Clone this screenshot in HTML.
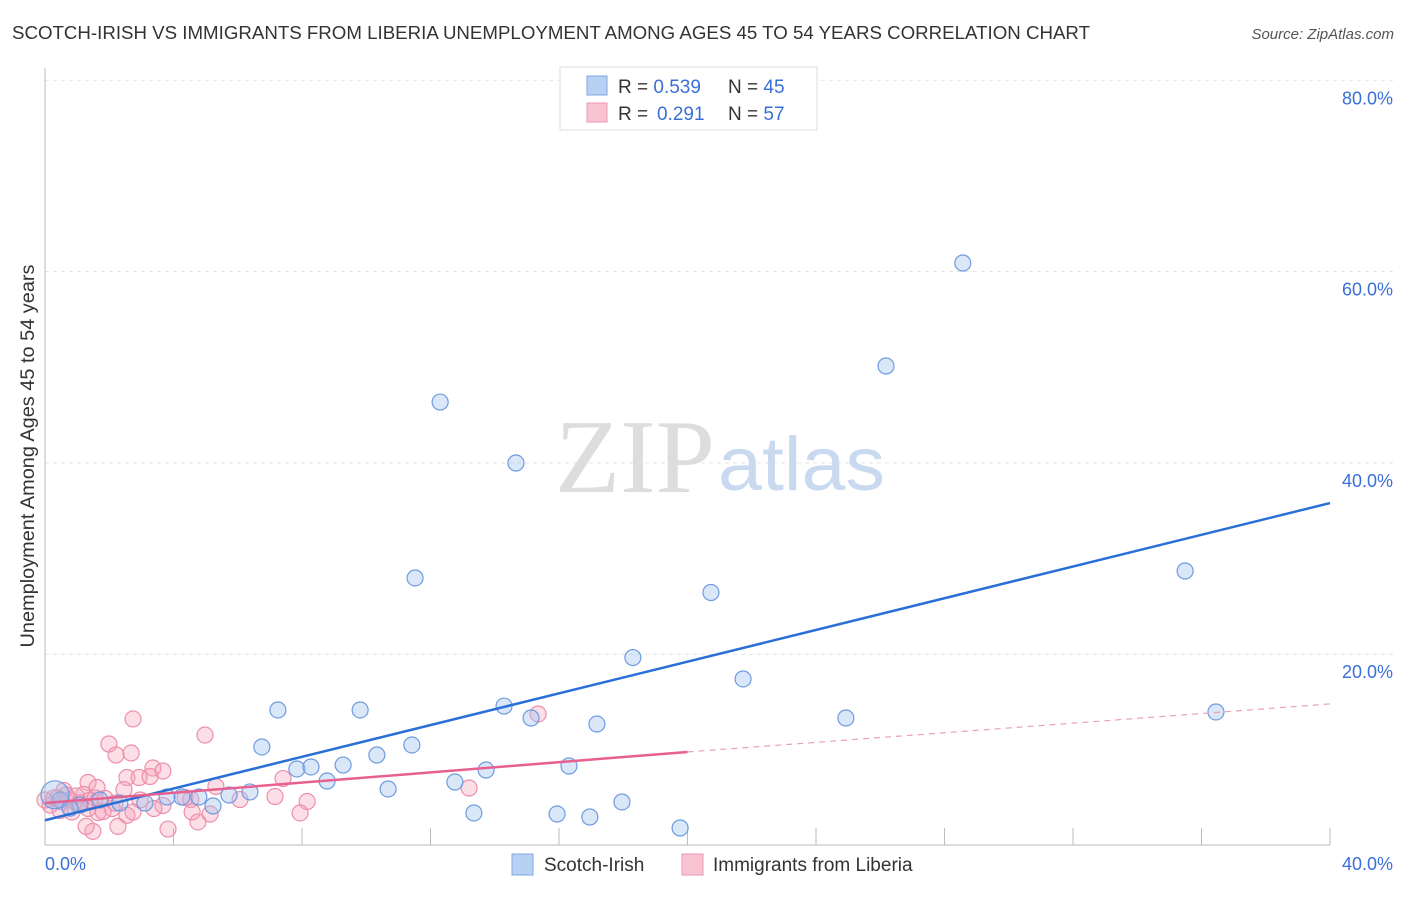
<!DOCTYPE html>
<html><head><meta charset="utf-8"><style>
body{margin:0;background:#fff;font-family:"Liberation Sans",sans-serif}
</style></head><body>
<svg width="1406" height="892" xmlns="http://www.w3.org/2000/svg" style="font-family:'Liberation Sans',sans-serif">
<text x="12" y="39" font-size="18" fill="#333" textLength="1078" lengthAdjust="spacingAndGlyphs">SCOTCH-IRISH VS IMMIGRANTS FROM LIBERIA UNEMPLOYMENT AMONG AGES 45 TO 54 YEARS CORRELATION CHART</text>
<text x="1394" y="39" font-size="15" fill="#555" font-style="italic" text-anchor="end">Source: ZipAtlas.com</text>
<g id="grid"></g>
<text x="555" y="492" font-size="105" fill="#ddd" textLength="160" lengthAdjust="spacingAndGlyphs" font-family="Liberation Serif">ZIP</text>
<text x="718" y="490" font-size="76" fill="#c9d9f0" textLength="167" lengthAdjust="spacingAndGlyphs">atlas</text>
<g id="pts"></g>
<g id="lines"></g>
<text transform="translate(34,456) rotate(-90)" font-size="19" fill="#333" text-anchor="middle" textLength="383" lengthAdjust="spacingAndGlyphs">Unemployment Among Ages 45 to 54 years</text>
<text x="45" y="870" font-size="18" fill="#3a6fd8">0.0%</text>
<text x="1393" y="870" font-size="18" fill="#3a6fd8" text-anchor="end">40.0%</text>
<g>
<rect x="560" y="67" width="257" height="63" fill="#fff" stroke="#ddd"/>
<rect x="587" y="76" width="20" height="19" fill="#b8d1f3" stroke="#7fa6e0"/>
<rect x="587" y="103" width="20" height="19" fill="#f8c4d3" stroke="#eb97b0"/>
<text x="618" y="93" font-size="19" fill="#333">R = <tspan fill="#3a6fd8">0.539</tspan><tspan x="728">N = </tspan><tspan fill="#3a6fd8">45</tspan></text>
<text x="618" y="120" font-size="19" fill="#333">R = <tspan fill="#3a6fd8" x="657">0.291</tspan><tspan x="728">N = </tspan><tspan fill="#3a6fd8">57</tspan></text>
</g>
<g>
<rect x="512" y="854" width="21" height="21" fill="#b8d1f3" stroke="#7fa6e0"/>
<text x="544" y="871" font-size="19" fill="#333">Scotch-Irish</text>
<rect x="682" y="854" width="21" height="21" fill="#f8c4d3" stroke="#eb97b0"/>
<text x="713" y="871" font-size="19" fill="#333">Immigrants from Liberia</text>
</g>
</svg>
<script>
const yTicks=[20,40,60,80];
const yTickLabels=["20.0%","40.0%","60.0%","80.0%"];
const xTicks=[0,4,8,12,16,20,24,28,32,36,40];
const blueX=[11.52,12.30,14.66,28.57,26.18,35.49,36.45,20.73,18.30,21.73,24.93,17.18,16.31,14.29,15.13,13.73,12.76,13.35,15.94,16.96,17.96,19.77,11.42,10.33,9.28,9.81,7.25,6.75,7.84,8.28,8.78,10.68,6.38,5.73,5.23,4.79,4.26,3.80,3.11,2.33,1.71,1.09,0.47,0.31,0.78];
const blueY=[27.97,46.36,39.99,60.9,50.13,28.7,13.96,26.45,19.65,17.41,13.33,12.7,8.31,14.58,13.33,7.89,6.64,3.40,3.29,2.98,4.55,1.83,10.51,9.46,8.41,14.17,14.17,10.30,8.00,8.21,6.74,5.91,5.60,5.28,4.13,5.07,5.07,5.07,4.44,4.44,4.76,4.23,4.76,5.3,3.9];
const pinkX=[2.74,4.98,1.99,2.68,2.21,3.36,3.67,2.55,2.93,3.27,1.34,1.62,2.46,1.21,0.59,5.32,7.41,8.16,7.16,6.07,4.54,4.36,3.67,3.39,1.87,2.09,1.65,0.78,0.40,0.97,0.16,0.28,0.53,1.09,1.40,1.81,2.27,1.49,1.28,3.83,4.76,5.14,4.58,7.94,15.35,13.20,0.84,2.55,2.74,1.03,0.0,0.65,1.56,2.18,0.47,1.34,2.96];
const pinkY=[13.23,11.55,10.61,9.67,9.46,8.10,7.79,7.11,7.11,7.21,6.59,6.06,5.85,5.33,5.75,6.17,7.00,4.60,5.12,4.81,4.81,5.02,4.18,3.87,4.92,3.87,3.45,4.76,4.97,5.18,4.23,4.97,4.55,4.44,4.76,3.55,2.00,1.48,2.00,1.72,2.46,3.29,3.50,3.40,13.75,6.01,3.50,3.16,3.50,4.23,4.76,5.28,4.97,4.44,3.66,3.87,4.76];
const blueTrend=[[0,2.64],[40,35.8]];
const pinkTrendSolid=[[0,4.44],[20,9.78]];
const pinkTrendDash=[[20,9.78],[40,14.8]];
const X=v=>45+v/40*1285, Y=v=>845.5-v/20*191.3;
const NS="http://www.w3.org/2000/svg";
function mk(t,a,p){const e=document.createElementNS(NS,t);for(const k in a)e.setAttribute(k,a[k]);p.appendChild(e);return e;}
const g=document.getElementById('grid');
yTicks.forEach((t,i)=>{
 const l=mk('line',{x1:45,x2:1393,y1:Y(t),y2:Y(t),stroke:'#e3e3e3','stroke-dasharray':'4,4'},g);
 
 
 const tx=mk('text',{x:1393,y:Y(t)+24,'font-size':18,fill:'#3a6fd8','text-anchor':'end'},g);
 tx.textContent=yTickLabels[i];
 
 
});
xTicks.forEach(t=>{
 const l=mk('line',{x1:X(t),x2:X(t),y1:828,y2:845,stroke:'#bbb'},g);
 
 
});
const ya=mk('line',{x1:45,x2:45,y1:68,y2:845,stroke:'#bbb'},g);


const xa=mk('line',{x1:45,x2:1330,y1:845,y2:845,stroke:'#bbb'},g);


const p=document.getElementById('pts');
pinkX.forEach((v,i)=>{
 const c=mk('circle',{cx:X(v),cy:Y(pinkY[i]),r:8,fill:'rgba(245,160,185,0.35)',stroke:'#ec8fab','stroke-width':1.2},p);
 
 
});
blueX.forEach((v,i)=>{
 const c=mk('circle',{cx:X(v),cy:Y(blueY[i]),r:(i==43?14:8),fill:'rgba(160,195,240,0.4)',stroke:'#6e9be0','stroke-width':1.2},p);
 
 
});
const L=document.getElementById('lines');
function line(d,col,dash){const e=mk('line',{x1:X(d[0][0]),y1:Y(d[0][1]),x2:X(d[1][0]),y2:Y(d[1][1]),stroke:col,'stroke-width':dash?1.2:2.5},L);if(dash)e.setAttribute('stroke-dasharray','6,5');return e;}
const b=line(blueTrend,'#2a6fd6',false);


const ps=line(pinkTrendSolid,'#e8608f',false);


const pd=line(pinkTrendDash,'#eba0b8',true);


</script>
</body></html>
